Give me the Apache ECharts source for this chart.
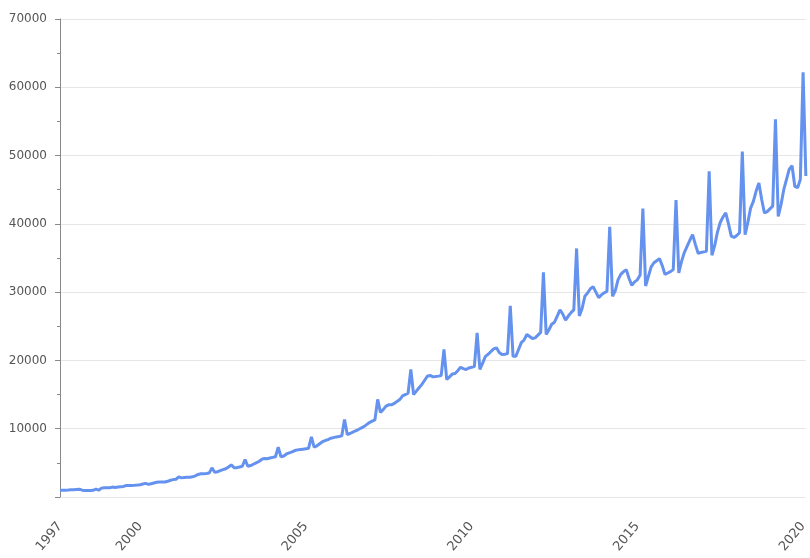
<!DOCTYPE html>
<html>
<head>
<meta charset="utf-8">
<script src="https://cdn.jsdelivr.net/npm/echarts@6/dist/echarts.min.js"></script>
<style>html,body{margin:0;padding:0;background:#fff;overflow:hidden;}#c{position:fixed;left:0;top:0;width:810px;height:558px;}</style>
</head>
<body>
<div id="c"></div>
<script>
// Monthly values, first month 1997-08, last month 2020-02
const startYear = 1997, startMonth = 8;
const v1997 = [1000, 1000, 1000, 1020, 1050];
const v1998 = [1050, 1100, 1150, 1000, 950, 950, 950, 980, 1150, 1000, 1300, 1350];
const v1999 = [1350, 1350, 1450, 1400, 1450, 1500, 1550, 1680, 1700, 1700, 1720, 1750];
const v2000 = [1800, 1900, 2000, 1850, 1950, 2050, 2150, 2200, 2200, 2200, 2300, 2450];
const v2001 = [2550, 2600, 2950, 2800, 2850, 2900, 2900, 2950, 3100, 3300, 3400, 3400];
const v2002 = [3440, 3500, 4270, 3630, 3700, 3850, 4000, 4130, 4400, 4700, 4300, 4300];
const v2003 = [4400, 4500, 5490, 4510, 4600, 4800, 5000, 5200, 5500, 5650, 5600, 5700];
const v2004 = [5800, 5900, 7290, 5880, 6000, 6300, 6470, 6600, 6800, 6900, 6950, 7000];
const v2005 = [7050, 7150, 8800, 7300, 7500, 7800, 8100, 8270, 8400, 8600, 8700, 8800];
const v2006 = [8850, 8950, 11350, 9150, 9300, 9500, 9700, 9880, 10100, 10300, 10600, 10900];
const v2007 = [11100, 11300, 14300, 12400, 12800, 13300, 13500, 13500, 13700, 14000, 14270, 14800];
const v2008 = [15000, 15200, 18670, 15000, 15500, 16000, 16500, 17100, 17690, 17800, 17600, 17640];
const v2009 = [17700, 17800, 21600, 17200, 17600, 18000, 18080, 18500, 19000, 18800, 18670, 18900];
const v2010 = [19000, 19100, 24040, 18700, 19600, 20600, 20900, 21300, 21700, 21840, 21150, 20860];
const v2011 = [20900, 21000, 28000, 20600, 20600, 21600, 22600, 23000, 23800, 23500, 23200, 23300];
const v2012 = [23700, 24100, 32900, 23800, 24500, 25300, 25600, 26500, 27400, 26800, 25900, 26500];
const v2013 = [27000, 27400, 36400, 26500, 27600, 29400, 29900, 30500, 30800, 30000, 29200, 29600];
const v2014 = [29900, 30100, 39560, 29400, 30200, 31800, 32600, 33000, 33300, 32000, 31000, 31500];
const v2015 = [31800, 32500, 42240, 30900, 32300, 33700, 34300, 34600, 34900, 33900, 32600, 32800];
const v2016 = [33000, 33300, 43500, 32800, 34500, 35800, 36700, 37600, 38430, 37000, 35700, 35800];
const v2017 = [35900, 36000, 47700, 35400, 36800, 38800, 40200, 41000, 41600, 40000, 38200, 38000];
const v2018 = [38300, 38700, 50600, 38400, 40200, 42300, 43300, 44800, 46000, 43600, 41600, 41800];
const v2019 = [42200, 42600, 55300, 41100, 42800, 45000, 46500, 48000, 48500, 45500, 45300, 46500];
const v2020 = [62200, 47000];

const values = [].concat(v1997, v1998, v1999, v2000, v2001, v2002, v2003, v2004, v2005,
  v2006, v2007, v2008, v2009, v2010, v2011, v2012, v2013, v2014, v2015, v2016, v2017,
  v2018, v2019, v2020);

const months = [];
for (let i = 0; i < values.length; i++) {
  const t = (startYear * 12 + startMonth - 1) + i;
  const y = Math.floor(t / 12), m = t % 12 + 1;
  months.push(y + '-' + (m < 10 ? '0' + m : m));
}
const tickLabels = ['1997-08', '2000-01', '2005-01', '2010-01', '2015-01', '2020-01'];

const chart = echarts.init(document.getElementById('c'), null, {renderer: 'canvas', width: 810, height: 558});
chart.setOption({
  animation: false,
  textStyle: {fontFamily: 'DejaVu Sans'},
  grid: {left: 60, right: 0, top: 19, bottom: 61, containLabel: false},
  xAxis: {
    type: 'category',
    data: months,
    boundaryGap: false,
    axisLine: {show: false},
    axisTick: {show: false},
    splitLine: {show: false},
    axisLabel: {
      rotate: 50,
      color: '#555',
      fontSize: 13,
      fontFamily: 'DejaVu Sans',
      margin: 27,
      interval: function (idx, val) { return tickLabels.indexOf(val) >= 0; },
      formatter: function (val) { return val.slice(0, 4); }
    }
  },
  yAxis: {
    type: 'value',
    min: 0,
    max: 70000,
    interval: 10000,
    axisLine: {show: true, lineStyle: {color: '#888', width: 1}},
    axisTick: {show: true, length: 5, lineStyle: {color: '#888'}},
    minorTick: {show: true, splitNumber: 2, length: 3, lineStyle: {color: '#888'}},
    splitLine: {show: true, lineStyle: {color: '#e6e6e6', width: 1}},
    axisLabel: {
      color: '#555',
      fontSize: 12,
      fontFamily: 'DejaVu Sans',
      margin: 13,
      formatter: function (v) { return v === 0 ? '' : String(v); }
    }
  },
  series: [{
    type: 'line',
    data: values,
    showSymbol: false,
    symbol: 'none',
    clip: false,
    lineStyle: {color: '#6592ee', width: 3},
    itemStyle: {color: '#6592ee'}
  }]
});
</script>
</body>
</html>
